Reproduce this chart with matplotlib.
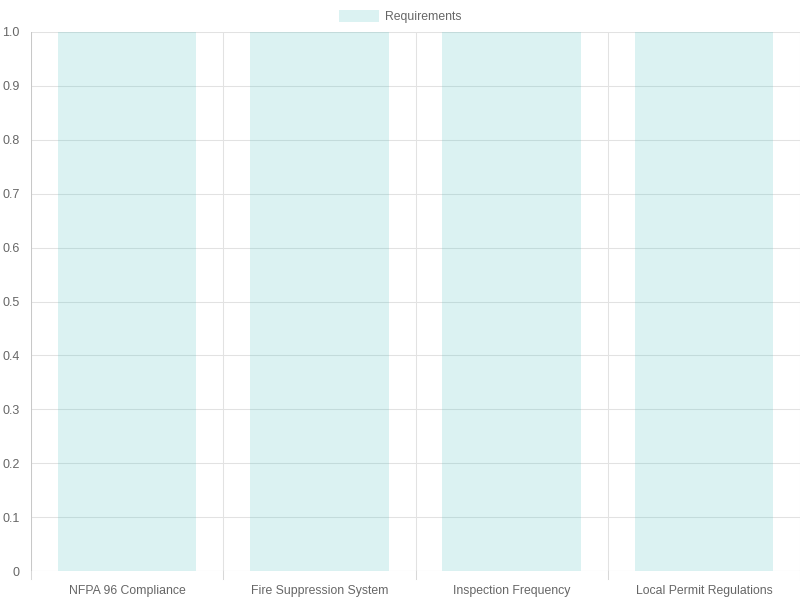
import matplotlib
matplotlib.use("Agg")
import matplotlib.pyplot as plt
from matplotlib.patches import Rectangle
import numpy as np

categories = ["NFPA 96 Compliance", "Fire Suppression System", "Inspection Frequency", "Local Permit Regulations"]
values = [1, 1, 1, 1]
series_label = "Requirements"
y_ticks = [0, 0.1, 0.2, 0.3, 0.4, 0.5, 0.6, 0.7, 0.8, 0.9, 1.0]
y_tick_labels = ["0", "0.1", "0.2", "0.3", "0.4", "0.5", "0.6", "0.7", "0.8", "0.9", "1.0"]

plt.rcParams['font.family'] = ['Liberation Sans', 'DejaVu Sans']

W, H = 800, 600
fig = plt.figure(figsize=(8, 6), dpi=100)
left, right, top, bottom = 31, 800, 32, 571
ax = fig.add_axes([left / W, 1 - bottom / H, (right - left) / W, (bottom - top) / H])

bar_color = (75 / 255, 192 / 255, 192 / 255, 0.2)
grid_color = "#e2e2e2"
text_color = "#666666"

x = np.arange(len(categories))
ax.bar(x, values, width=0.72, color=bar_color, zorder=2, linewidth=0)
ax.set_xlim(-0.5, len(categories) - 0.5)
ax.set_ylim(0, 1.0)

for yv in y_ticks:
    ax.axhline(yv, color=grid_color if yv != 0 else "#c8c8c8", lw=0.75, zorder=3 if yv == 0 else 1)
for xb in np.arange(-0.5, len(categories), 1.0):
    ax.axvline(xb, color=grid_color if xb != -0.5 else "#c8c8c8", lw=0.75, zorder=1)

ax.set_yticks(y_ticks)
ax.set_yticklabels(y_tick_labels)
ax.set_xticks(x)
ax.set_xticklabels(categories)
ax.tick_params(axis='y', length=0, pad=8, labelsize=9, labelcolor=text_color)
ax.tick_params(axis='x', length=0, pad=10, labelsize=8.8, labelcolor=text_color)
for s in ax.spines.values():
    s.set_visible(False)

# tick marks below x-axis at category boundaries
for xb in np.arange(-0.5, len(categories), 1.0):
    ax.plot([xb, xb], [0, -8 / (bottom - top)], color="#d8d8d8", lw=0.75, clip_on=False, zorder=1)

# legend
lx0, ly0 = 339, 10
fig.patches.append(Rectangle((lx0 / W, 1 - (ly0 + 12) / H), 40 / W, 12 / H,
                             transform=fig.transFigure, facecolor=bar_color, edgecolor="none"))
fig.text(385 / W, 1 - 17 / H, series_label, ha="left", va="center", fontsize=8.8, color=text_color)

fig.savefig("out.png", dpi=100, facecolor="white")
